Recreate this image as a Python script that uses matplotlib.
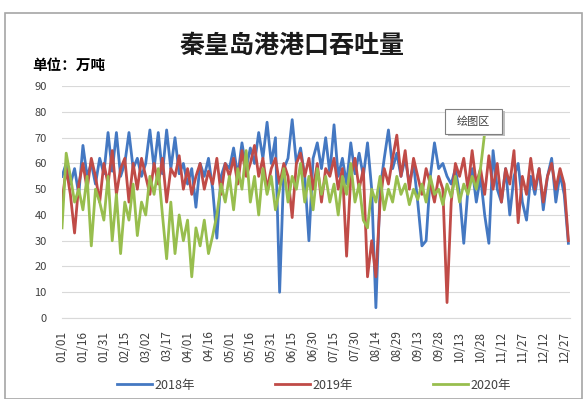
import numpy as np
import pandas as pd
import matplotlib
matplotlib.use("Agg")
import matplotlib.pyplot as plt
import matplotlib.dates as mdates
from matplotlib.patches import Rectangle

plt.rcParams['font.family'] = ['Noto Sans CJK SC', 'DejaVu Sans']

# 秦皇岛港日吞吐量（万吨），每3天取一个值
y2018 = [55, 60, 52, 58, 48, 67, 55, 60, 52, 62, 56, 72, 57, 72, 55, 60, 72, 58, 62, 55,
         60, 73, 58, 72, 56, 73, 58, 70, 56, 60, 52, 58, 43, 60, 55, 62, 50, 31, 55, 60,
         58, 66, 55, 68, 58, 66, 60, 72, 62, 76, 60, 70, 10, 58, 62, 77, 60, 66, 55, 30,
         62, 68, 58, 70, 56, 75, 55, 62, 52, 68, 56, 64, 55, 68, 50, 4, 50, 62, 73, 58,
         64, 55, 62, 52, 60, 45, 28, 30, 55, 68, 58, 60, 55, 52, 58, 48, 29, 50, 58, 45,
         55, 40, 29, 65, 50, 45, 58, 40, 55, 60, 45, 38, 55, 48, 58, 42, 55, 62, 45, 56,
         48, 29]
y2019 = [45, 58, 48, 33, 52, 60, 50, 62, 55, 45, 60, 52, 65, 48, 58, 62, 45, 60, 50, 62,
         55, 48, 60, 52, 62, 45, 58, 55, 63, 50, 58, 48, 55, 60, 50, 57, 52, 62, 48, 60,
         55, 62, 52, 65, 55, 60, 67, 55, 62, 50, 58, 62, 52, 60, 55, 39, 60, 64, 55, 62,
         50, 60, 45, 58, 55, 62, 50, 58, 24, 55, 62, 50, 58, 16, 30, 16, 45, 58, 52, 62,
         71, 55, 65, 50, 62, 55, 48, 58, 52, 45, 55, 50, 6, 45, 60, 55, 62, 50, 65, 52,
         58, 48, 63, 50, 60, 45, 58, 52, 65, 37, 55, 48, 62, 50, 58, 45, 55, 60, 50, 58,
         52, 30]
y2020 = [35, 64, 55, 45, 50, 42, 55, 28, 50, 45, 38, 55, 30, 48, 25, 45, 38, 52, 32, 45,
         40, 55, 48, 58, 40, 23, 45, 25, 40, 30, 38, 16, 35, 28, 38, 25, 32, 40, 52, 45,
         55, 42, 58, 50, 65, 45, 55, 40, 58, 48, 55, 42, 50, 58, 45, 55, 50, 60, 45, 55,
         42, 58, 48, 55, 45, 52, 40, 55, 48, 60, 45, 52, 38, 35, 50, 45, 55, 42, 50, 45,
         55, 48, 52, 44, 50, 46, 52, 45, 55, 48, 50, 44, 52, 47, 55, 45, 52, 48, 55, 50,
         58, 72]

series = [('2018年', y2018, '#4478C2'),
          ('2019年', y2019, '#C04B47'),
          ('2020年', y2020, '#98BE4E')]

tick_dates = pd.date_range('2019-01-01', periods=25, freq='15D')

fig = plt.figure(figsize=(5.85, 3.99), dpi=100)
ax = fig.add_axes([0.106, 0.203, 0.868, 0.581])

for name, vals, color in series:
    days = pd.date_range('2019-01-01', periods=len(vals), freq='3D')
    ax.plot(days, vals, color=color, lw=2.0, label=name)

ax.set_ylim(0, 90)
ax.set_yticks(range(0, 91, 10))
ax.set_xlim(pd.Timestamp('2019-01-01'), pd.Timestamp('2019-12-31'))
ax.set_xticks(tick_dates)
ax.xaxis.set_major_formatter(mdates.DateFormatter('%m/%d'))
ax.tick_params(axis='x', rotation=90, labelsize=8.5, colors='#404040', length=0, pad=9)
ax.tick_params(axis='y', labelsize=8, colors='#404040', length=0, pad=11)
ax.grid(axis='y', color='#D9D9D9', lw=0.8)
ax.set_axisbelow(True)
for s in ['top', 'right', 'left']:
    ax.spines[s].set_visible(False)
ax.spines['bottom'].set_color('#D9D9D9')

fig.text(0.50, 0.885, '秦皇岛港港口吞吐量', ha='center', va='center',
         fontsize=18, fontweight='bold', color='#1A1A1A')
fig.text(0.055, 0.838, '单位：万吨', ha='left', va='center',
         fontsize=10.5, fontweight='bold', color='#000000')

fig.legend(loc='center', bbox_to_anchor=(0.537, 0.035), ncol=3, frameon=False,
           fontsize=9, handlelength=2.8, handletextpad=0.2, columnspacing=6.4,
           labelcolor='#404040')

# 外框
fig.patches.append(Rectangle((0.009, 0.0), 0.986, 0.967, transform=fig.transFigure,
                             fill=False, edgecolor='#A6A6A6', lw=1.2))

# 提示框
fig.patches.append(Rectangle((0.765, 0.660), 0.098, 0.062, transform=fig.transFigure,
                             facecolor='#BFBFBF', edgecolor='none', zorder=4))
fig.patches.append(Rectangle((0.760, 0.665), 0.098, 0.062, transform=fig.transFigure,
                             facecolor='white', edgecolor='#7F7F7F', lw=0.8, zorder=5))
fig.text(0.809, 0.696, '绘图区', ha='center', va='center', fontsize=8,
         color='#404040', zorder=6)

fig.savefig('out.png', dpi=100)
